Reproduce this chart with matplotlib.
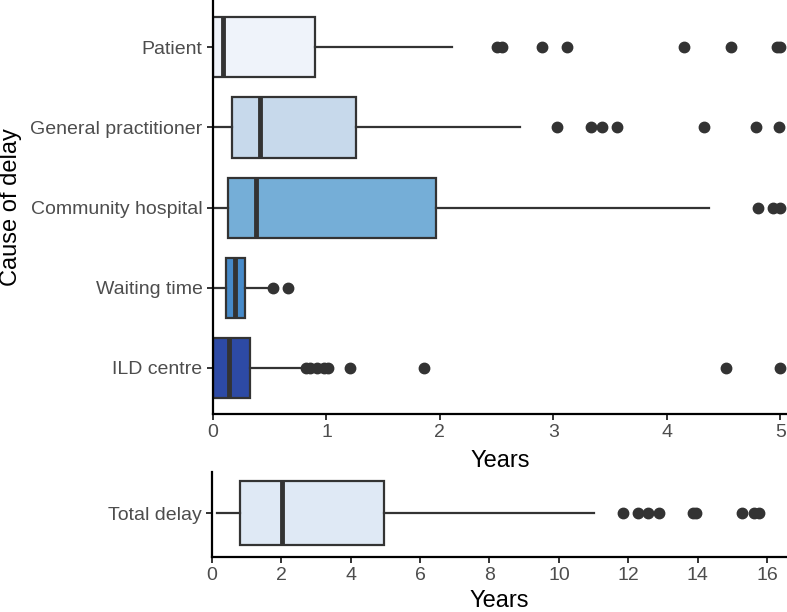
import matplotlib
matplotlib.use("Agg")
import matplotlib.pyplot as plt

plt.rcParams['font.family'] = ['Liberation Sans', 'DejaVu Sans']

# Causes of delay (top panel), values in years
causes = ["Patient", "General practitioner", "Community hospital", "Waiting time", "ILD centre"]
q1 = [0.0, 0.17, 0.13, 0.115, 0.0]
median = [0.09, 0.41, 0.38, 0.19, 0.14]
q3 = [0.90, 1.26, 1.97, 0.28, 0.33]
whis_lo = [0.0, 0.0, 0.0, 0.0, 0.0]
whis_hi = [2.11, 2.71, 4.37, 0.49, 0.78]
outliers = [
    [2.50, 2.55, 2.90, 3.12, 4.15, 4.57, 4.97, 5.0],
    [3.03, 3.33, 3.43, 3.56, 4.33, 4.79, 4.99],
    [4.80, 4.94, 5.0],
    [0.53, 0.66],
    [0.82, 0.855, 0.92, 0.98, 1.01, 1.21, 1.86, 4.52, 5.0],
]
colors = ["#eff3fa", "#c7d9eb", "#75aed7", "#468ac9", "#2d4aa5"]

# Total delay (bottom panel)
total_label = "Total delay"
total_q1, total_med, total_q3 = 0.81, 2.02, 4.95
total_lo, total_hi = 0.14, 11.0
total_out = [11.85, 12.27, 12.57, 12.89, 13.87, 13.96, 15.28, 15.61, 15.76]
total_color = "#dfe9f5"

edge = "#333333"
tick_col = "#4d4d4d"

fig = plt.figure(figsize=(7.87, 6.12), dpi=100)
ax1 = fig.add_axes([0.2707, 0.3235, 0.7293, 0.6765])
ax2 = fig.add_axes([0.269, 0.0899, 0.731, 0.1394])


def style(ax):
    for s in ["top", "right"]:
        ax.spines[s].set_visible(False)
    for s in ["left", "bottom"]:
        ax.spines[s].set_linewidth(1.6)
        ax.spines[s].set_color("black")
    ax.tick_params(axis="both", length=4, width=1.4, colors=edge,
                   labelcolor=tick_col, labelsize=14)


def draw(ax, stats, cols, widths):
    bp = ax.bxp(stats, positions=range(len(stats)), vert=False, widths=widths,
                patch_artist=True, showcaps=False,
                boxprops=dict(edgecolor=edge, linewidth=1.6),
                whiskerprops=dict(color=edge, linewidth=1.6),
                medianprops=dict(color=edge, linewidth=3.5, solid_capstyle="butt"),
                flierprops=dict(marker="o", markerfacecolor=edge, markeredgecolor=edge,
                                markersize=7.5, linestyle="none"))
    for patch, c in zip(bp["boxes"], cols):
        patch.set_facecolor(c)


stats = []
for i in range(len(causes)):
    stats.append(dict(med=median[i], q1=q1[i], q3=q3[i], whislo=whis_lo[i],
                      whishi=whis_hi[i], fliers=outliers[i]))
draw(ax1, stats, colors, 0.75)
ax1.set_ylim(4.575, -0.59)
ax1.set_xlim(0, 5.06)
ax1.set_yticks(range(len(causes)))
ax1.set_yticklabels(causes)
ax1.set_xticks([0, 1, 2, 3, 4, 5])
ax1.set_xlabel("Years", fontsize=17, labelpad=6)
ax1.set_ylabel("Cause of delay", fontsize=17, labelpad=6)
style(ax1)

tstats = [dict(med=total_med, q1=total_q1, q3=total_q3, whislo=total_lo,
               whishi=total_hi, fliers=total_out)]
draw(ax2, tstats, [total_color], 0.75)
ax2.set_ylim(0.52, -0.49)
ax2.set_xlim(0, 16.57)
ax2.set_yticks([0])
ax2.set_yticklabels([total_label])
ax2.set_xticks(range(0, 17, 2))
ax2.set_xlabel("Years", fontsize=17, labelpad=4)
style(ax2)

fig.savefig("out.png", dpi=100)
